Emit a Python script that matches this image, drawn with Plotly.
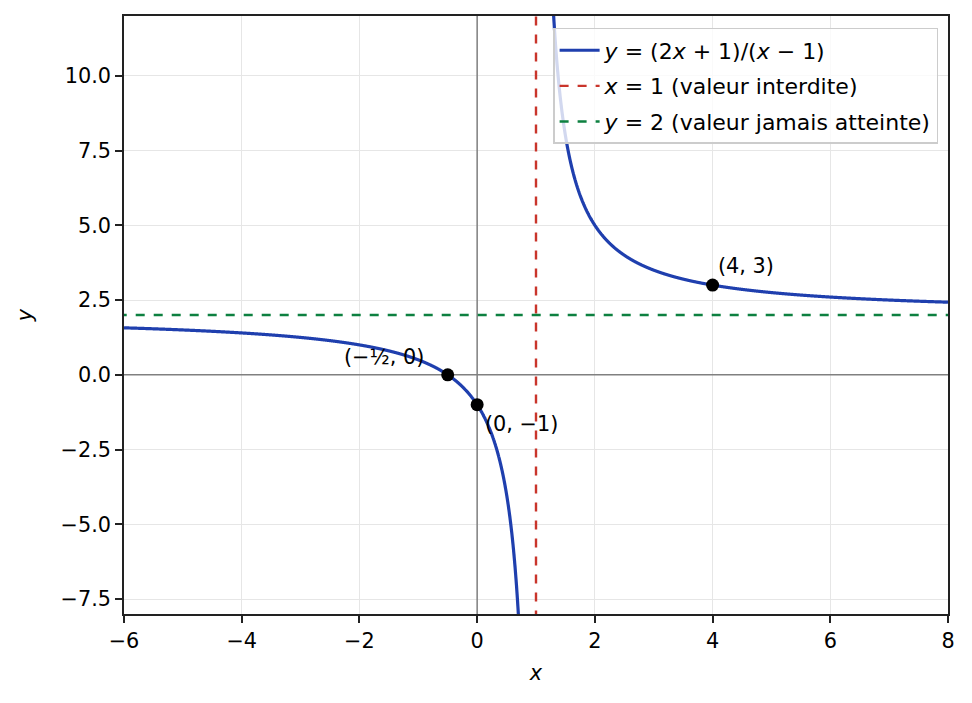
import numpy as np
import plotly.graph_objects as go

# Function definition y = (a*x + b) / (c*x + d)
num_coef = [2, 1]
den_coef = [1, -1]
x_min, x_max = -6, 8
y_min, y_max = -8, 12
forbidden_x = 1
never_y = 2

# Remarkable points
pt_x = [-0.5, 0, 4]
pt_y = [0, -1, 3]
pt_labels = ["(−½, 0)", "(0, −1)", "(4, 3)"]

x_ticks = [-6, -4, -2, 0, 2, 4, 6, 8]
y_ticks = [-7.5, -5.0, -2.5, 0.0, 2.5, 5.0, 7.5, 10.0]
y_tick_text = ["−7.5", "−5.0", "−2.5", "0.0", "2.5", "5.0", "7.5", "10.0"]
x_tick_text = ["−6", "−4", "−2", "0", "2", "4", "6", "8"]

BLUE = "#1f3fae"
RED = "#c9352b"
GREEN = "#0d8040"
FONT = "DejaVu Sans"
FS = 20.8


def f(x):
    return (num_coef[0] * x + num_coef[1]) / (den_coef[0] * x + den_coef[1])


xs = np.linspace(x_min, x_max, 6001)
ys = f(xs)
ys[(ys > y_max + 1) | (ys < y_min - 1)] = np.nan

fig = go.Figure()
# zero axis lines (drawn first, below the curve)
fig.add_trace(go.Scatter(x=[0, 0], y=[y_min - 5, y_max + 5], mode="lines",
                         line=dict(color="#808080", width=1.5), showlegend=False, hoverinfo="skip"))
fig.add_trace(go.Scatter(x=[x_min - 5, x_max + 5], y=[0, 0], mode="lines",
                         line=dict(color="#808080", width=1.5), showlegend=False, hoverinfo="skip"))

fig.add_trace(go.Scatter(x=xs, y=ys, mode="lines", line=dict(color=BLUE, width=3.2, simplify=False),
                         name="<i>y</i> = (2<i>x</i> + 1)/(<i>x</i> − 1)", connectgaps=False,
                         legendgroup="a"))
fig.add_trace(go.Scatter(x=[forbidden_x, forbidden_x], y=[y_min - 5, y_max + 5], mode="lines",
                         line=dict(color=RED, width=2.4, dash="dash"),
                         name="<i>x</i> = 1 (valeur interdite)", legendgroup="b"))
fig.add_trace(go.Scatter(x=[x_min - 5, x_max + 5], y=[never_y, never_y], mode="lines",
                         line=dict(color=GREEN, width=2.4, dash="dash"),
                         name="<i>y</i> = 2 (valeur jamais atteinte)", legendgroup="c"))
fig.add_trace(go.Scatter(x=pt_x, y=pt_y, mode="markers", marker=dict(color="black", size=13),
                         showlegend=False, cliponaxis=False))

anns = [
    dict(x=pt_x[0], y=pt_y[0], text=pt_labels[0], xanchor="right", yanchor="bottom", xshift=-22, yshift=4),
    dict(x=pt_x[1], y=pt_y[1], text=pt_labels[1], xanchor="left", yanchor="top", xshift=6, yshift=-5),
    dict(x=pt_x[2], y=pt_y[2], text=pt_labels[2], xanchor="left", yanchor="bottom", xshift=3, yshift=5),
]
for a in anns:
    fig.add_annotation(xref="x", yref="y", showarrow=False, font=dict(family=FONT, size=FS, color="black"), **a)

axis_common = dict(showline=True, linecolor="#222", linewidth=1.6, mirror=True,
                   ticks="outside", ticklen=7, tickwidth=1.6, tickcolor="#222",
                   showgrid=True, gridcolor="#e6e6e6", gridwidth=1.2, zeroline=False,
                   tickfont=dict(family=FONT, size=FS, color="black"))

fig.update_xaxes(range=[x_min, x_max], tickvals=x_ticks, ticktext=x_tick_text,
                 title=dict(text="<i>x</i>", font=dict(family=FONT, size=FS, color="black"), standoff=14),
                 **axis_common)
fig.update_yaxes(range=[y_min, y_max], tickvals=y_ticks, ticktext=y_tick_text,
                 title=dict(text="<i>y</i>", font=dict(family=FONT, size=FS, color="black"), standoff=22),
                 **axis_common)

fig.update_layout(
    width=972, height=703,
    margin=dict(l=116, r=32, t=6, b=97),
    plot_bgcolor="white", paper_bgcolor="white",
    showlegend=True,
    legend=dict(x=0.988, y=0.98, xanchor="right", yanchor="top",
                bgcolor="rgba(255,255,255,0.8)", bordercolor="#cccccc", borderwidth=1.5,
                font=dict(family=FONT, size=22, color="black"), tracegroupgap=4, itemwidth=40),
    font=dict(family=FONT),
)

fig.write_html("out.html")
